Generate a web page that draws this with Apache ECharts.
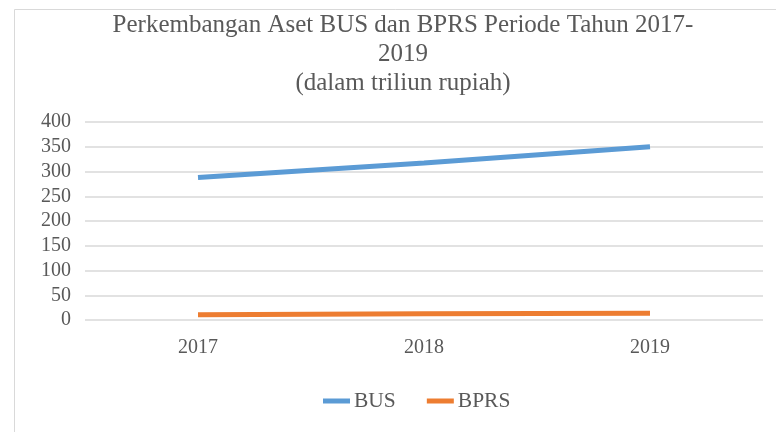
<!DOCTYPE html>
<html>
<head>
<meta charset="utf-8">
<script src="https://cdn.jsdelivr.net/npm/echarts@6/dist/echarts.min.js"></script>
<style>
html,body{margin:0;padding:0;background:#fff;}
#main{width:776px;height:432px;}
</style>
</head>
<body>
<div id="main"></div>
<script>
var categories = ['2017', '2018', '2019'];
var busValues = [288, 317, 350];
var bprsValues = [10.8, 12.4, 13.8];
var yTicks = { min: 0, max: 400, interval: 50 };
var titleText = 'Perkembangan Aset BUS dan BPRS Periode Tahun 2017-\n2019\n(dalam triliun rupiah)';

var FONT = 'Liberation Serif';
var TXT = '#595959';
var chart = echarts.init(document.getElementById('main'), null, {renderer: 'canvas'});
chart.setOption({
  backgroundColor: '#fff',
  animation: false,
  graphic: [{
    type: 'rect', left: 12, top: 7,
    shape: { width: 900, height: 600 },
    style: { fill: 'none', stroke: '#d9d9d9', lineWidth: 1 },
    silent: true, z: -10
  }],
  title: {
    text: titleText,
    left: 398, textAlign: 'center', top: 6,
    textStyle: { fontFamily: FONT, fontSize: 25, fontWeight: 'normal', color: TXT, lineHeight: 29 }
  },
  legend: {
    data: ['BUS', 'BPRS'],
    left: 318, top: 385,
    itemWidth: 27, itemHeight: 5, itemGap: 31,
    icon: 'rect',
    textStyle: { fontFamily: FONT, fontSize: 21.5, color: TXT, padding: [0, 0, 0, -1] }
  },
  grid: { left: 85, right: 13, top: 122, bottom: 112, containLabel: false },
  xAxis: {
    type: 'category', data: categories, boundaryGap: true,
    axisLine: { show: false }, axisTick: { show: false },
    axisLabel: { fontFamily: FONT, fontSize: 20, color: TXT, margin: 18 },
    splitLine: { show: false }
  },
  yAxis: {
    type: 'value', min: yTicks.min, max: yTicks.max, interval: yTicks.interval,
    axisLine: { show: false }, axisTick: { show: false },
    axisLabel: { fontFamily: FONT, fontSize: 20, color: TXT, margin: 14 },
    splitLine: { lineStyle: { color: '#d9d9d9', width: 1.5 } }
  },
  series: [
    { name: 'BUS', type: 'line', data: busValues, symbol: 'none',
      lineStyle: { color: '#5B9BD5', width: 5, cap: 'butt' }, itemStyle: { color: '#5B9BD5' } },
    { name: 'BPRS', type: 'line', data: bprsValues, symbol: 'none',
      lineStyle: { color: '#ED7D31', width: 5, cap: 'butt' }, itemStyle: { color: '#ED7D31' } }
  ]
});
</script>
</body>
</html>
